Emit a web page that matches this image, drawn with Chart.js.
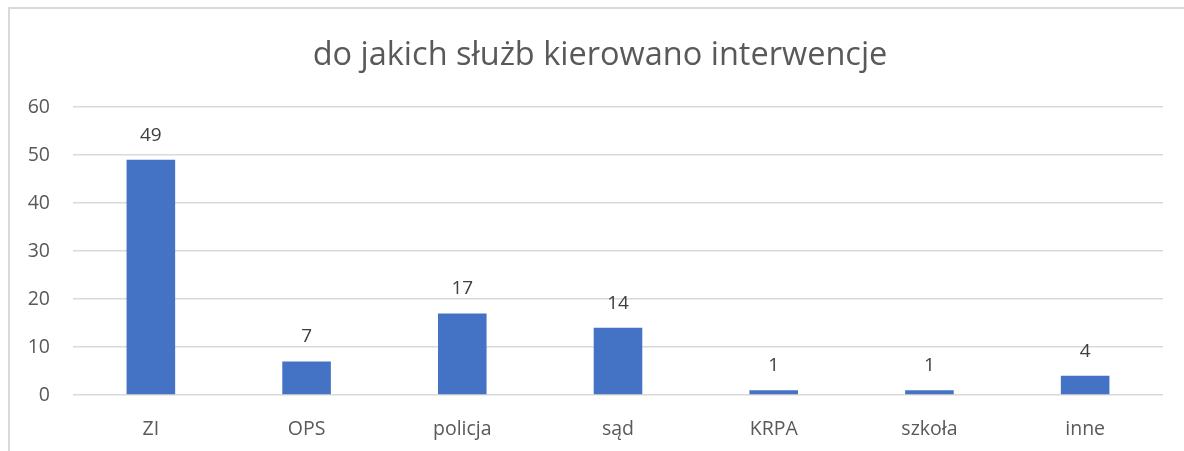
<!DOCTYPE html>
<html>
<head>
<meta charset="utf-8">
<script src="https://cdn.jsdelivr.net/npm/chart.js@4.4.0/dist/chart.umd.min.js"></script>
<style>
  body { margin: 0; background: #fff; }
  #wrap { position: relative; width: 1184px; height: 451px; overflow: hidden; }
  #frame { position: absolute; left: 8px; top: 7px; width: 1300px; height: 600px; border: 2px solid #d9d9d9; box-sizing: border-box; }
  canvas { position: absolute; left: 0; top: 0; }
</style>
</head>
<body>
<div id="wrap">
  <div id="frame"></div>
  <canvas id="chart" width="1184" height="451"></canvas>
</div>
<script>
const categories = ['ZI', 'OPS', 'policja', 'sąd', 'KRPA', 'szkoła', 'inne'];
const values = [49, 7, 17, 14, 1, 1, 4];
const yTicks = [0, 10, 20, 30, 40, 50, 60];
const chartTitle = 'do jakich służb kierowano interwencje';

const fontFamily = '"Open Sans", "Noto Sans", sans-serif';
const textColor = '#595959';

// simple value labels above the bars
const barLabels = {
  id: 'barLabels',
  afterDatasetsDraw(chart) {
    const ctx = chart.ctx;
    const meta = chart.getDatasetMeta(0);
    ctx.save();
    ctx.font = '19px ' + fontFamily;
    ctx.fillStyle = '#404040';
    ctx.textAlign = 'center';
    ctx.textBaseline = 'alphabetic';
    meta.data.forEach((bar, i) => {
      ctx.fillText(String(values[i]), bar.x, bar.y - 19);
    });
    ctx.restore();
  }
};

new Chart(document.getElementById('chart'), {
  type: 'bar',
  data: {
    labels: categories,
    datasets: [{
      data: values,
      backgroundColor: '#4472c4',
      categoryPercentage: 1,
      barPercentage: 0.312
    }]
  },
  options: {
    responsive: false,
    animation: false,
    layout: { padding: { left: 16, right: 0, top: 0, bottom: 0 } },
    plugins: {
      legend: { display: false },
      tooltip: { enabled: false },
      title: {
        display: true,
        text: chartTitle,
        color: textColor,
        font: { family: fontFamily, size: 32.5, weight: 'normal', lineHeight: 1.2 },
        padding: { top: 36, bottom: 32 }
      }
    },
    scales: {
      x: {
        grid: { display: false },
        border: { display: false },
        ticks: { color: textColor, font: { family: fontFamily, size: 19.5 }, padding: 15 },
        afterFit(scale) { scale.height = 56; }
      },
      y: {
        min: 0,
        max: 60,
        afterBuildTicks(scale) { scale.ticks = yTicks.map(v => ({ value: v })); },
        grid: { color: '#d9d9d9', lineWidth: 1.5, drawTicks: false },
        border: { display: false },
        ticks: { color: textColor, font: { family: fontFamily, size: 19.5 }, padding: 23 },
        afterFit(scale) { scale.width = 57; }
      },
      // empty right-hand spacer so the plot ends where the original does
      yRight: {
        position: 'right',
        grid: { display: false },
        border: { display: false },
        ticks: { display: false },
        afterFit(scale) { scale.width = 21; }
      }
    }
  },
  plugins: [barLabels]
});
</script>
</body>
</html>
